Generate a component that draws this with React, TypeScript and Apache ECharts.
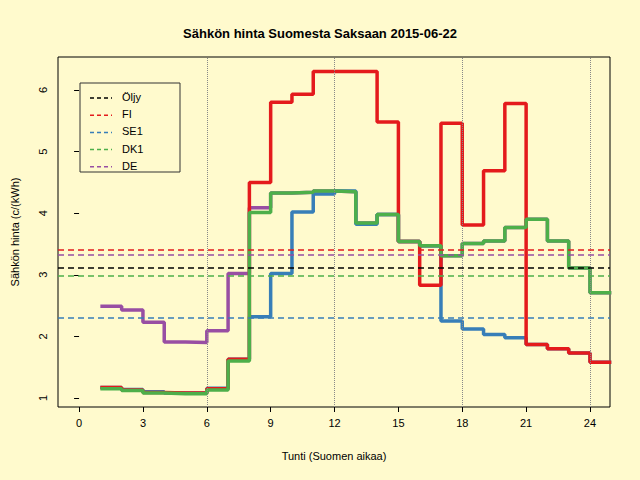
import { useEffect, useRef } from "react";
import * as echarts from "echarts";

const hours = Array.from({ length: 25 }, (_, i) => i + 1);
const fi = [1.17, 1.13, 1.09, 1.08, 1.08, 1.15, 1.63, 4.5, 5.8, 5.93, 6.3, 6.3, 6.3, 5.48, 3.54, 2.83, 5.46, 3.81, 4.69, 5.78, 1.87, 1.8, 1.73, 1.58, 1.58];
const se1 = [1.17, 1.14, 1.1, 1.08, 1.08, 1.16, 1.63, 2.32, 3.02, 4.02, 4.31, 4.36, 3.82, 3.98, 3.54, 3.47, 2.25, 2.12, 2.03, 1.98, 1.87, 1.8, 1.73, 1.58, 1.58];
const dk1 = [1.15, 1.12, 1.08, 1.07, 1.07, 1.13, 1.6, 4.01, 4.33, 4.34, 4.36, 4.35, 3.84, 3.98, 3.54, 3.47, 3.31, 3.51, 3.55, 3.77, 3.9, 3.55, 3.11, 2.71, 2.71];
const de = [2.49, 2.43, 2.23, 1.91, 1.9, 2.09, 3.02, 4.09, 4.33, 4.34, 4.36, 4.35, 3.84, 3.98, 3.54, 3.47, 3.31, 3.51, 3.55, 3.77, 3.9, 3.55, 3.11, 2.71, 2.71];
const averages = [3.11, 3.41, 2.31, 2.98, 3.33];
const names = ["Öljy", "FI", "SE1", "DK1", "DE"];
const colors = ["#000000", "#E41A1C", "#377EB8", "#4DAF4A", "#984EA3"];
const xTicks = [0, 3, 6, 9, 12, 15, 18, 21, 24];
const yTicks = [1, 2, 3, 4, 5, 6];
const gridLines = [6, 12, 18, 24];

export default function App() {
  const ref = useRef<HTMLDivElement>(null);
  useEffect(() => {
    if (!ref.current) return;
    const chart = echarts.init(ref.current, null, { renderer: "svg" });
    const font = "Liberation Sans, Arial, sans-serif";
    const step = (name: string, vals: number[], color: string) => ({
      name,
      type: "line",
      step: "end",
      symbol: "none",
      data: hours.map((h, i) => [h, vals[i]]),
      lineStyle: { color, width: 3.5 },
      z: 3,
    });
    const legendItems: any[] = [
      { type: "rect", shape: { x: 80, y: 83, width: 100, height: 89 }, style: { fill: "#FFFACD", stroke: "#333", lineWidth: 1 } },
    ];
    names.forEach((n, i) => {
      const y = 98 + i * 17.2;
      legendItems.push({ type: "line", shape: { x1: 90, y1: y, x2: 112, y2: y }, style: { stroke: colors[i], lineWidth: 1.5, lineDash: [4, 3] } });
      legendItems.push({ type: "text", x: 122, y: y - 1, style: { text: n, font: `11px ${font}`, fill: "#000", verticalAlign: "middle" } });
    });
    chart.setOption({
      animation: false,
      backgroundColor: "#FFFACD",
      textStyle: { fontFamily: font },
      title: {
        text: "Sähkön hinta Suomesta Saksaan 2015-06-22",
        left: "center",
        top: 22,
        textStyle: { fontSize: 13, fontWeight: "bold", color: "#000", fontFamily: font },
      },
      grid: { left: 58, right: 30, top: 57, bottom: 73, show: true, borderColor: "#000", borderWidth: 1 },
      xAxis: {
        type: "value",
        min: -0.99,
        max: 24.94,
        name: "Tunti (Suomen aikaa)",
        nameLocation: "middle",
        nameGap: 43,
        nameTextStyle: { fontSize: 11, color: "#000" },
        axisLine: { show: false },
        axisTick: { show: true, inside: false, length: 5, customValues: xTicks, lineStyle: { color: "#000" } },
        axisLabel: { customValues: xTicks, fontSize: 11, color: "#000", margin: 10 },
        splitLine: { show: false },
      },
      yAxis: {
        type: "value",
        min: 0.854,
        max: 6.536,
        name: "Sähkön hinta (c/(kWh)",
        nameLocation: "middle",
        nameGap: 38,
        nameTextStyle: { fontSize: 11, color: "#000" },
        axisLine: { show: false },
        axisTick: { show: true, inside: false, length: 5, customValues: yTicks, lineStyle: { color: "#000" } },
        axisLabel: { customValues: yTicks, fontSize: 11, color: "#000", rotate: 90, margin: 10 },
        splitLine: { show: false },
      },
      graphic: legendItems,
      series: [
        {
          type: "line",
          data: [],
          silent: true,
          markLine: {
            symbol: "none",
            silent: true,
            label: { show: false },
            lineStyle: { color: "#888", type: "dotted", width: 1 },
            data: gridLines.map((x) => ({ xAxis: x })),
          },
        },
        {
          type: "line",
          data: [],
          silent: true,
          markLine: {
            symbol: "none",
            silent: true,
            label: { show: false },
            data: averages.map((v, i) => ({ yAxis: v, lineStyle: { color: colors[i], type: [6, 4], width: 1.5 } })),
          },
        },
        step("DE", de, colors[4]),
        step("SE1", se1, colors[2]),
        step("FI", fi, colors[1]),
        step("DK1", dk1, colors[3]),
      ],
    });
    return () => chart.dispose();
  }, []);
  return <div ref={ref} style={{ width: 640, height: 480, position: "absolute", left: 0, top: 0 }} />;
}
